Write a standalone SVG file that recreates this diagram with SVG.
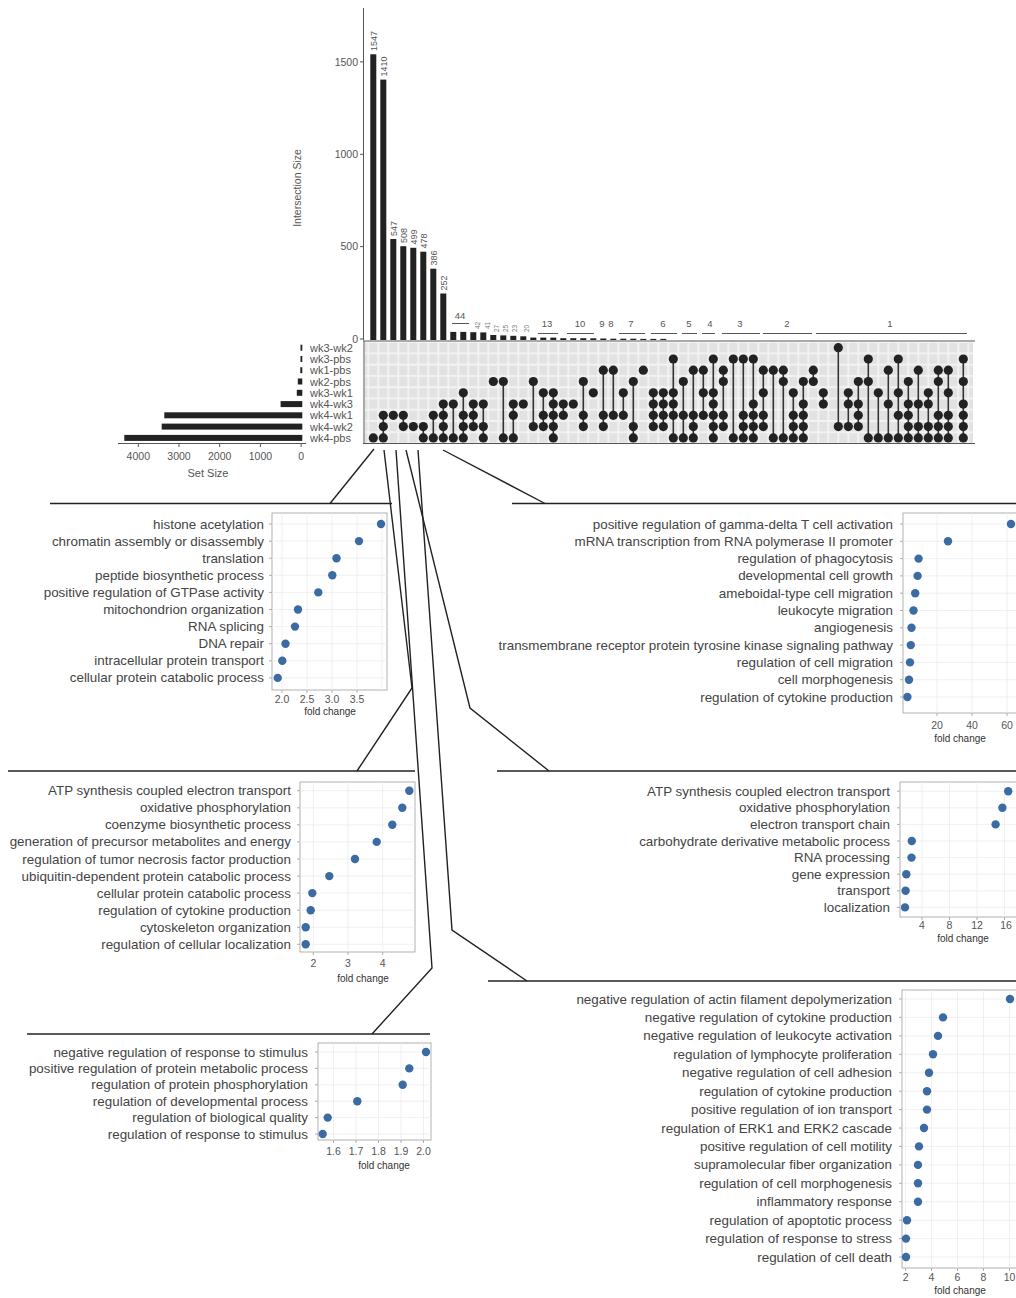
<svg xmlns="http://www.w3.org/2000/svg" xmlns:xlink="http://www.w3.org/1999/xlink" width="1016" height="1298" viewBox="0 0 1016 1298">
<style>
text{font-family:"Liberation Sans",Arial,sans-serif}
.lab{font-size:13.4px;fill:#444;text-anchor:end}
.tk{font-size:10.5px;fill:#555;text-anchor:middle}
.fc{font-size:10px;fill:#333;text-anchor:middle}
.ax{font-size:10.5px;fill:#555}
.rl{font-size:11px;fill:#555}
.bv{font-size:9px;fill:#555}
.gl{font-size:9.5px;fill:#555;text-anchor:middle}
.sv{font-size:6.5px;fill:#777}
.bar{fill:#222}
.ml{stroke:#333;stroke-width:1.6}
.grid{stroke:#ececec;stroke-width:0.8}
.box{fill:#fff;stroke:#a8a8a8;stroke-width:0.9}
.tick{stroke:#999;stroke-width:0.8}
.dot{fill:#3b6ba3}
.hl{stroke:#222;stroke-width:1.5}
.con{fill:none;stroke:#222;stroke-width:1.4}
.axl{stroke:#555;stroke-width:1}
.gline{stroke:#555;stroke-width:1}
</style>
<defs>
<circle id="dt" r="4.6" fill="#222"/>
<pattern id="cell" x="368.3" y="342.1" width="10" height="11.27" patternUnits="userSpaceOnUse">
<rect x="0.9" y="0.9" width="8.2" height="9.5" fill="#e2e2e2"/>
</pattern>
</defs>
<rect width="1016" height="1298" fill="#fff"/>

<!-- Intersection size bars -->
<g id="intersection-bars">
<line class="axl" x1="363.5" y1="8" x2="363.5" y2="340"/>
<line class="axl" x1="360" y1="61.9" x2="363.5" y2="61.9"/>
<line class="axl" x1="360" y1="154.3" x2="363.5" y2="154.3"/>
<line class="axl" x1="360" y1="246.6" x2="363.5" y2="246.6"/>
<line class="axl" x1="360" y1="339" x2="363.5" y2="339"/>
<text class="ax" x="358" y="65.5" text-anchor="end">1500</text>
<text class="ax" x="358" y="158" text-anchor="end">1000</text>
<text class="ax" x="358" y="250.3" text-anchor="end">500</text>
<text class="ax" x="358" y="342.5" text-anchor="end">0</text>
<text class="ax" transform="translate(301,188) rotate(-90)" text-anchor="middle">Intersection Size</text>
<rect class="bar" x="370.3" y="54.3" width="6" height="285.7"/>
<rect class="bar" x="380.3" y="79.6" width="6" height="260.4"/>
<rect class="bar" x="390.3" y="239" width="6" height="101"/>
<rect class="bar" x="400.3" y="246.2" width="6" height="93.8"/>
<rect class="bar" x="410.3" y="247.8" width="6" height="92.2"/>
<rect class="bar" x="420.3" y="251.7" width="6" height="88.3"/>
<rect class="bar" x="430.3" y="268.7" width="6" height="71.3"/>
<rect class="bar" x="440.3" y="293.5" width="6" height="46.5"/>
<rect class="bar" x="450.3" y="331.9" width="6" height="8.1"/>
<rect class="bar" x="460.3" y="331.9" width="6" height="8.1"/>
<rect class="bar" x="470.3" y="332.2" width="6" height="7.8"/>
<rect class="bar" x="480.3" y="332.4" width="6" height="7.6"/>
<rect class="bar" x="490.3" y="335" width="6" height="5"/>
<rect class="bar" x="500.3" y="335.4" width="6" height="4.6"/>
<rect class="bar" x="510.3" y="335.8" width="6" height="4.2"/>
<rect class="bar" x="520.3" y="336.3" width="6" height="3.7"/>
<rect class="bar" x="530.3" y="337.6" width="6" height="2.4"/>
<rect class="bar" x="540.3" y="337.6" width="6" height="2.4"/>
<rect class="bar" x="550.3" y="337.6" width="6" height="2.4"/>
<rect class="bar" x="560.3" y="338.2" width="6" height="1.8"/>
<rect class="bar" x="570.3" y="338.2" width="6" height="1.8"/>
<rect class="bar" x="580.3" y="338.2" width="6" height="1.8"/>
<rect class="bar" x="590.3" y="338.3" width="6" height="1.7"/>
<rect class="bar" x="600.3" y="338.5" width="6" height="1.5"/>
<rect class="bar" x="610.3" y="338.7" width="6" height="1.3"/>
<rect class="bar" x="620.3" y="338.7" width="6" height="1.3"/>
<rect class="bar" x="630.3" y="338.7" width="6" height="1.3"/>
<rect class="bar" x="640.3" y="338.9" width="6" height="1.1"/>
<rect class="bar" x="650.3" y="338.9" width="6" height="1.1"/>
<rect class="bar" x="660.3" y="338.9" width="6" height="1.1"/>
<text class="bv" transform="translate(376.5,51) rotate(-90)">1547</text>
<text class="bv" transform="translate(386.5,76.5) rotate(-90)">1410</text>
<text class="bv" transform="translate(396.5,236) rotate(-90)">547</text>
<text class="bv" transform="translate(406.5,243) rotate(-90)">508</text>
<text class="bv" transform="translate(416.5,244.5) rotate(-90)">499</text>
<text class="bv" transform="translate(426.5,248.5) rotate(-90)">478</text>
<text class="bv" transform="translate(436.5,265.5) rotate(-90)">386</text>
<text class="bv" transform="translate(446.5,290.5) rotate(-90)">252</text>
<text class="gl" x="460" y="319">44</text>
<line class="gline" x1="452" y1="323.5" x2="469" y2="323.5"/>
<text class="sv" transform="translate(479.5,329) rotate(-90)">42</text>
<text class="sv" transform="translate(489.5,329) rotate(-90)">41</text>
<text class="sv" transform="translate(499,332) rotate(-90)">27</text>
<text class="sv" transform="translate(508,332) rotate(-90)">25</text>
<text class="sv" transform="translate(517,332) rotate(-90)">23</text>
<text class="sv" transform="translate(529,332) rotate(-90)">20</text>
<text class="gl" x="547" y="327">13</text>
<line class="gline" x1="538" y1="333.5" x2="558" y2="333.5"/>
<text class="gl" x="580" y="327">10</text>
<line class="gline" x1="567" y1="333.5" x2="594" y2="333.5"/>
<text class="gl" x="602" y="327">9</text>
<text class="gl" x="611" y="327">8</text>
<text class="gl" x="631" y="327">7</text>
<line class="gline" x1="619" y1="333.5" x2="645" y2="333.5"/>
<text class="gl" x="663" y="327">6</text>
<line class="gline" x1="651" y1="333.5" x2="677" y2="333.5"/>
<text class="gl" x="689" y="327">5</text>
<line class="gline" x1="682" y1="333.5" x2="697" y2="333.5"/>
<text class="gl" x="710" y="327">4</text>
<line class="gline" x1="702" y1="333.5" x2="715" y2="333.5"/>
<text class="gl" x="740" y="327">3</text>
<line class="gline" x1="722" y1="333.5" x2="760" y2="333.5"/>
<text class="gl" x="787" y="327">2</text>
<line class="gline" x1="763" y1="333.5" x2="812" y2="333.5"/>
<text class="gl" x="890" y="327">1</text>
<line class="gline" x1="816" y1="333.5" x2="967" y2="333.5"/>
</g>

<!-- Set size bars -->
<g id="set-size">
<rect class="bar" x="300.5" y="344.7" width="1.8" height="6"/>
<rect class="bar" x="300.5" y="356" width="1.8" height="6"/>
<rect class="bar" x="300.3" y="367.2" width="2" height="6"/>
<rect class="bar" x="297.8" y="378.5" width="4.5" height="6"/>
<rect class="bar" x="296.8" y="389.8" width="5.5" height="6"/>
<rect class="bar" x="280.6" y="401.1" width="21.7" height="6"/>
<rect class="bar" x="164.3" y="412.3" width="138" height="6"/>
<rect class="bar" x="161.7" y="423.6" width="140.6" height="6"/>
<rect class="bar" x="124.3" y="434.9" width="178" height="6"/>
<line class="axl" x1="118" y1="443.5" x2="306" y2="443.5"/>
<line class="axl" x1="138.3" y1="443.5" x2="138.3" y2="447"/>
<line class="axl" x1="179" y1="443.5" x2="179" y2="447"/>
<line class="axl" x1="219.7" y1="443.5" x2="219.7" y2="447"/>
<line class="axl" x1="260.4" y1="443.5" x2="260.4" y2="447"/>
<line class="axl" x1="301.1" y1="443.5" x2="301.1" y2="447"/>
<text class="ax" x="138.3" y="460" text-anchor="middle">4000</text>
<text class="ax" x="179" y="460" text-anchor="middle">3000</text>
<text class="ax" x="219.7" y="460" text-anchor="middle">2000</text>
<text class="ax" x="260.4" y="460" text-anchor="middle">1000</text>
<text class="ax" x="301.1" y="460" text-anchor="middle">0</text>
<text class="ax" x="208" y="477" text-anchor="middle" style="font-size:11px">Set Size</text>
<text class="rl" x="310" y="351.7">wk3-wk2</text>
<text class="rl" x="310" y="363">wk3-pbs</text>
<text class="rl" x="310" y="374.2">wk1-pbs</text>
<text class="rl" x="310" y="385.5">wk2-pbs</text>
<text class="rl" x="310" y="396.8">wk3-wk1</text>
<text class="rl" x="310" y="408.1">wk4-wk3</text>
<text class="rl" x="310" y="419.3">wk4-wk1</text>
<text class="rl" x="310" y="430.6">wk4-wk2</text>
<text class="rl" x="310" y="441.9">wk4-pbs</text>
</g>

<!-- Matrix -->
<g id="matrix">
<rect x="365" y="342" width="608" height="101" fill="#f3f3f3"/>
<rect x="365" y="342" width="608" height="101" fill="url(#cell)"/>
<line class="axl" x1="363" y1="341" x2="975" y2="341"/>
<line class="axl" x1="363" y1="443.5" x2="975" y2="443.5"/>
<line class="axl" x1="364" y1="341" x2="364" y2="443.5"/>
<g transform="translate(373.3)"><use href="#dt" y="437.9"/></g>
<g transform="translate(383.3)"><line class="ml" y1="415.3" y2="437.9"/><use href="#dt" y="415.3"/><use href="#dt" y="426.6"/><use href="#dt" y="437.9"/></g>
<g transform="translate(393.3)"><use href="#dt" y="415.3"/></g>
<g transform="translate(403.3)"><line class="ml" y1="415.3" y2="426.6"/><use href="#dt" y="415.3"/><use href="#dt" y="426.6"/></g>
<g transform="translate(413.3)"><use href="#dt" y="426.6"/></g>
<g transform="translate(423.3)"><line class="ml" y1="426.6" y2="437.9"/><use href="#dt" y="426.6"/><use href="#dt" y="437.9"/></g>
<g transform="translate(433.3)"><line class="ml" y1="415.3" y2="437.9"/><use href="#dt" y="415.3"/><use href="#dt" y="437.9"/></g>
<g transform="translate(443.3)"><line class="ml" y1="404.1" y2="437.9"/><use href="#dt" y="404.1"/><use href="#dt" y="415.3"/><use href="#dt" y="426.6"/><use href="#dt" y="437.9"/></g>
<g transform="translate(453.3)"><line class="ml" y1="404.1" y2="437.9"/><use href="#dt" y="404.1"/><use href="#dt" y="437.9"/></g>
<g transform="translate(463.3)"><line class="ml" y1="392.8" y2="437.9"/><use href="#dt" y="392.8"/><use href="#dt" y="415.3"/><use href="#dt" y="426.6"/><use href="#dt" y="437.9"/></g>
<g transform="translate(473.3)"><line class="ml" y1="404.1" y2="426.6"/><use href="#dt" y="404.1"/><use href="#dt" y="415.3"/><use href="#dt" y="426.6"/></g>
<g transform="translate(483.3)"><line class="ml" y1="404.1" y2="437.9"/><use href="#dt" y="404.1"/><use href="#dt" y="426.6"/><use href="#dt" y="437.9"/></g>
<g transform="translate(493.3)"><use href="#dt" y="381.5"/></g>
<g transform="translate(503.3)"><line class="ml" y1="381.5" y2="437.9"/><use href="#dt" y="381.5"/><use href="#dt" y="437.9"/></g>
<g transform="translate(513.3)"><line class="ml" y1="404.1" y2="437.9"/><use href="#dt" y="404.1"/><use href="#dt" y="415.3"/><use href="#dt" y="437.9"/></g>
<g transform="translate(523.3)"><use href="#dt" y="404.1"/></g>
<g transform="translate(533.3)"><line class="ml" y1="381.5" y2="426.6"/><use href="#dt" y="381.5"/><use href="#dt" y="426.6"/></g>
<g transform="translate(543.3)"><line class="ml" y1="392.8" y2="426.6"/><use href="#dt" y="392.8"/><use href="#dt" y="415.3"/><use href="#dt" y="426.6"/></g>
<g transform="translate(553.3)"><line class="ml" y1="392.8" y2="437.9"/><use href="#dt" y="392.8"/><use href="#dt" y="404.1"/><use href="#dt" y="415.3"/><use href="#dt" y="426.6"/><use href="#dt" y="437.9"/></g>
<g transform="translate(563.3)"><line class="ml" y1="404.1" y2="415.3"/><use href="#dt" y="404.1"/><use href="#dt" y="415.3"/></g>
<g transform="translate(573.3)"><use href="#dt" y="404.1"/></g>
<g transform="translate(583.3)"><line class="ml" y1="381.5" y2="426.6"/><use href="#dt" y="381.5"/><use href="#dt" y="415.3"/><use href="#dt" y="426.6"/></g>
<g transform="translate(593.3)"><use href="#dt" y="392.8"/></g>
<g transform="translate(603.3)"><line class="ml" y1="370.2" y2="426.6"/><use href="#dt" y="370.2"/><use href="#dt" y="415.3"/><use href="#dt" y="426.6"/></g>
<g transform="translate(613.3)"><line class="ml" y1="370.2" y2="415.3"/><use href="#dt" y="370.2"/><use href="#dt" y="415.3"/></g>
<g transform="translate(623.3)"><line class="ml" y1="392.8" y2="415.3"/><use href="#dt" y="392.8"/><use href="#dt" y="415.3"/></g>
<g transform="translate(633.3)"><line class="ml" y1="381.5" y2="437.9"/><use href="#dt" y="381.5"/><use href="#dt" y="426.6"/><use href="#dt" y="437.9"/></g>
<g transform="translate(643.3)"><use href="#dt" y="370.2"/></g>
<g transform="translate(653.3)"><line class="ml" y1="392.8" y2="426.6"/><use href="#dt" y="392.8"/><use href="#dt" y="404.1"/><use href="#dt" y="415.3"/><use href="#dt" y="426.6"/></g>
<g transform="translate(663.3)"><line class="ml" y1="392.8" y2="426.6"/><use href="#dt" y="392.8"/><use href="#dt" y="404.1"/><use href="#dt" y="415.3"/><use href="#dt" y="426.6"/></g>
<g transform="translate(673.3)"><line class="ml" y1="359" y2="437.9"/><use href="#dt" y="359"/><use href="#dt" y="392.8"/><use href="#dt" y="404.1"/><use href="#dt" y="415.3"/><use href="#dt" y="437.9"/></g>
<g transform="translate(683.3)"><line class="ml" y1="381.5" y2="437.9"/><use href="#dt" y="381.5"/><use href="#dt" y="415.3"/><use href="#dt" y="437.9"/></g>
<g transform="translate(693.3)"><line class="ml" y1="370.2" y2="437.9"/><use href="#dt" y="370.2"/><use href="#dt" y="415.3"/><use href="#dt" y="426.6"/><use href="#dt" y="437.9"/></g>
<g transform="translate(703.3)"><line class="ml" y1="370.2" y2="415.3"/><use href="#dt" y="370.2"/><use href="#dt" y="392.8"/><use href="#dt" y="415.3"/></g>
<g transform="translate(713.3)"><line class="ml" y1="359" y2="437.9"/><use href="#dt" y="359"/><use href="#dt" y="392.8"/><use href="#dt" y="404.1"/><use href="#dt" y="415.3"/><use href="#dt" y="426.6"/><use href="#dt" y="437.9"/></g>
<g transform="translate(723.3)"><line class="ml" y1="370.2" y2="426.6"/><use href="#dt" y="370.2"/><use href="#dt" y="381.5"/><use href="#dt" y="415.3"/><use href="#dt" y="426.6"/></g>
<g transform="translate(733.3)"><line class="ml" y1="359" y2="437.9"/><use href="#dt" y="359"/><use href="#dt" y="437.9"/></g>
<g transform="translate(743.3)"><line class="ml" y1="359" y2="437.9"/><use href="#dt" y="359"/><use href="#dt" y="415.3"/><use href="#dt" y="426.6"/><use href="#dt" y="437.9"/></g>
<g transform="translate(753.3)"><line class="ml" y1="359" y2="437.9"/><use href="#dt" y="359"/><use href="#dt" y="404.1"/><use href="#dt" y="415.3"/><use href="#dt" y="426.6"/><use href="#dt" y="437.9"/></g>
<g transform="translate(763.3)"><line class="ml" y1="370.2" y2="426.6"/><use href="#dt" y="370.2"/><use href="#dt" y="392.8"/><use href="#dt" y="415.3"/><use href="#dt" y="426.6"/></g>
<g transform="translate(773.3)"><line class="ml" y1="370.2" y2="437.9"/><use href="#dt" y="370.2"/><use href="#dt" y="437.9"/></g>
<g transform="translate(783.3)"><line class="ml" y1="370.2" y2="437.9"/><use href="#dt" y="370.2"/><use href="#dt" y="381.5"/><use href="#dt" y="437.9"/></g>
<g transform="translate(793.3)"><line class="ml" y1="392.8" y2="437.9"/><use href="#dt" y="392.8"/><use href="#dt" y="415.3"/><use href="#dt" y="426.6"/><use href="#dt" y="437.9"/></g>
<g transform="translate(803.3)"><line class="ml" y1="381.5" y2="437.9"/><use href="#dt" y="381.5"/><use href="#dt" y="404.1"/><use href="#dt" y="415.3"/><use href="#dt" y="426.6"/><use href="#dt" y="437.9"/></g>
<g transform="translate(813.3)"><line class="ml" y1="370.2" y2="381.5"/><use href="#dt" y="370.2"/><use href="#dt" y="381.5"/></g>
<g transform="translate(823.3)"><line class="ml" y1="392.8" y2="404.1"/><use href="#dt" y="392.8"/><use href="#dt" y="404.1"/></g>
<g transform="translate(838.3)"><line class="ml" y1="347.7" y2="426.6"/><use href="#dt" y="347.7"/><use href="#dt" y="426.6"/></g>
<g transform="translate(848.3)"><line class="ml" y1="392.8" y2="426.6"/><use href="#dt" y="392.8"/><use href="#dt" y="404.1"/><use href="#dt" y="426.6"/></g>
<g transform="translate(858.3)"><line class="ml" y1="381.5" y2="426.6"/><use href="#dt" y="381.5"/><use href="#dt" y="404.1"/><use href="#dt" y="415.3"/><use href="#dt" y="426.6"/></g>
<g transform="translate(868.3)"><line class="ml" y1="359" y2="437.9"/><use href="#dt" y="359"/><use href="#dt" y="381.5"/><use href="#dt" y="437.9"/></g>
<g transform="translate(878.3)"><line class="ml" y1="392.8" y2="437.9"/><use href="#dt" y="392.8"/><use href="#dt" y="437.9"/></g>
<g transform="translate(888.3)"><line class="ml" y1="370.2" y2="437.9"/><use href="#dt" y="370.2"/><use href="#dt" y="404.1"/><use href="#dt" y="437.9"/></g>
<g transform="translate(898.3)"><line class="ml" y1="359" y2="437.9"/><use href="#dt" y="359"/><use href="#dt" y="392.8"/><use href="#dt" y="415.3"/><use href="#dt" y="437.9"/></g>
<g transform="translate(908.3)"><line class="ml" y1="381.5" y2="437.9"/><use href="#dt" y="381.5"/><use href="#dt" y="404.1"/><use href="#dt" y="415.3"/><use href="#dt" y="426.6"/><use href="#dt" y="437.9"/></g>
<g transform="translate(918.3)"><line class="ml" y1="370.2" y2="437.9"/><use href="#dt" y="370.2"/><use href="#dt" y="404.1"/><use href="#dt" y="426.6"/><use href="#dt" y="437.9"/></g>
<g transform="translate(928.3)"><line class="ml" y1="392.8" y2="437.9"/><use href="#dt" y="392.8"/><use href="#dt" y="404.1"/><use href="#dt" y="426.6"/><use href="#dt" y="437.9"/></g>
<g transform="translate(938.3)"><line class="ml" y1="370.2" y2="437.9"/><use href="#dt" y="370.2"/><use href="#dt" y="381.5"/><use href="#dt" y="415.3"/><use href="#dt" y="426.6"/><use href="#dt" y="437.9"/></g>
<g transform="translate(948.3)"><line class="ml" y1="370.2" y2="437.9"/><use href="#dt" y="370.2"/><use href="#dt" y="392.8"/><use href="#dt" y="415.3"/><use href="#dt" y="426.6"/><use href="#dt" y="437.9"/></g>
<g transform="translate(963.3)"><line class="ml" y1="359" y2="437.9"/><use href="#dt" y="359"/><use href="#dt" y="381.5"/><use href="#dt" y="404.1"/><use href="#dt" y="415.3"/><use href="#dt" y="426.6"/><use href="#dt" y="437.9"/></g>
</g>

<!-- Panel A -->
<g id="panel-a">
<line class="hl" x1="50" y1="503.5" x2="392" y2="503.5"/>
<rect class="box" x="272" y="513" width="115" height="177"/>
<g class="grid"><line x1="282" y1="513" x2="282" y2="690"/><line x1="307" y1="513" x2="307" y2="690"/><line x1="332" y1="513" x2="332" y2="690"/><line x1="357" y1="513" x2="357" y2="690"/><line x1="382" y1="513" x2="382" y2="690"/>
<line x1="272" y1="524" x2="387" y2="524"/><line x1="272" y1="541.1" x2="387" y2="541.1"/><line x1="272" y1="558.2" x2="387" y2="558.2"/><line x1="272" y1="575.3" x2="387" y2="575.3"/><line x1="272" y1="592.4" x2="387" y2="592.4"/><line x1="272" y1="609.5" x2="387" y2="609.5"/><line x1="272" y1="626.6" x2="387" y2="626.6"/><line x1="272" y1="643.7" x2="387" y2="643.7"/><line x1="272" y1="660.8" x2="387" y2="660.8"/><line x1="272" y1="677.9" x2="387" y2="677.9"/></g>
<g class="tick"><line x1="282" y1="690" x2="282" y2="693"/><line x1="307" y1="690" x2="307" y2="693"/><line x1="332" y1="690" x2="332" y2="693"/><line x1="357" y1="690" x2="357" y2="693"/>
<line x1="269" y1="524" x2="272" y2="524"/><line x1="269" y1="541.1" x2="272" y2="541.1"/><line x1="269" y1="558.2" x2="272" y2="558.2"/><line x1="269" y1="575.3" x2="272" y2="575.3"/><line x1="269" y1="592.4" x2="272" y2="592.4"/><line x1="269" y1="609.5" x2="272" y2="609.5"/><line x1="269" y1="626.6" x2="272" y2="626.6"/><line x1="269" y1="643.7" x2="272" y2="643.7"/><line x1="269" y1="660.8" x2="272" y2="660.8"/><line x1="269" y1="677.9" x2="272" y2="677.9"/></g>
<text class="tk" x="282" y="703">2.0</text><text class="tk" x="307" y="703">2.5</text><text class="tk" x="332" y="703">3.0</text><text class="tk" x="357" y="703">3.5</text>
<text class="fc" x="330" y="715">fold change</text>
<text class="lab" x="264" y="528.5">histone acetylation</text>
<text class="lab" x="264" y="545.6">chromatin assembly or disassembly</text>
<text class="lab" x="264" y="562.7">translation</text>
<text class="lab" x="264" y="579.8">peptide biosynthetic process</text>
<text class="lab" x="264" y="596.9">positive regulation of GTPase activity</text>
<text class="lab" x="264" y="614">mitochondrion organization</text>
<text class="lab" x="264" y="631.1">RNA splicing</text>
<text class="lab" x="264" y="648.2">DNA repair</text>
<text class="lab" x="264" y="665.3">intracellular protein transport</text>
<text class="lab" x="264" y="682.4">cellular protein catabolic process</text>
<g class="dot"><circle cx="381" cy="524" r="4.2"/><circle cx="359" cy="541.1" r="4.2"/><circle cx="336.5" cy="558.2" r="4.2"/><circle cx="332.3" cy="575.3" r="4.2"/><circle cx="318.3" cy="592.4" r="4.2"/><circle cx="298" cy="609.5" r="4.2"/><circle cx="295" cy="626.6" r="4.2"/><circle cx="285.5" cy="643.7" r="4.2"/><circle cx="282.3" cy="660.8" r="4.2"/><circle cx="277.7" cy="677.9" r="4.2"/></g>
</g>

<!-- Panel B -->
<g id="panel-b">
<line class="hl" x1="512" y1="503.5" x2="1016" y2="503.5"/>
<rect class="box" x="903" y="513" width="130" height="200"/>
<g class="grid"><line x1="937" y1="513" x2="937" y2="713"/><line x1="972" y1="513" x2="972" y2="713"/><line x1="1007" y1="513" x2="1007" y2="713"/>
<line x1="903" y1="524" x2="1016" y2="524"/><line x1="903" y1="541.3" x2="1016" y2="541.3"/><line x1="903" y1="558.6" x2="1016" y2="558.6"/><line x1="903" y1="575.9" x2="1016" y2="575.9"/><line x1="903" y1="593.2" x2="1016" y2="593.2"/><line x1="903" y1="610.5" x2="1016" y2="610.5"/><line x1="903" y1="627.8" x2="1016" y2="627.8"/><line x1="903" y1="645.1" x2="1016" y2="645.1"/><line x1="903" y1="662.4" x2="1016" y2="662.4"/><line x1="903" y1="679.7" x2="1016" y2="679.7"/><line x1="903" y1="697" x2="1016" y2="697"/></g>
<g class="tick"><line x1="937" y1="713" x2="937" y2="716"/><line x1="972" y1="713" x2="972" y2="716"/><line x1="1007" y1="713" x2="1007" y2="716"/>
<line x1="900" y1="524" x2="903" y2="524"/><line x1="900" y1="541.3" x2="903" y2="541.3"/><line x1="900" y1="558.6" x2="903" y2="558.6"/><line x1="900" y1="575.9" x2="903" y2="575.9"/><line x1="900" y1="593.2" x2="903" y2="593.2"/><line x1="900" y1="610.5" x2="903" y2="610.5"/><line x1="900" y1="627.8" x2="903" y2="627.8"/><line x1="900" y1="645.1" x2="903" y2="645.1"/><line x1="900" y1="662.4" x2="903" y2="662.4"/><line x1="900" y1="679.7" x2="903" y2="679.7"/><line x1="900" y1="697" x2="903" y2="697"/></g>
<text class="tk" x="937" y="729">20</text><text class="tk" x="972" y="729">40</text><text class="tk" x="1007" y="729">60</text>
<text class="fc" x="960" y="742">fold change</text>
<text class="lab" x="893" y="528.5">positive regulation of gamma-delta T cell activation</text>
<text class="lab" x="893" y="545.8">mRNA transcription from RNA polymerase II promoter</text>
<text class="lab" x="893" y="563.1">regulation of phagocytosis</text>
<text class="lab" x="893" y="580.4">developmental cell growth</text>
<text class="lab" x="893" y="597.7">ameboidal-type cell migration</text>
<text class="lab" x="893" y="615">leukocyte migration</text>
<text class="lab" x="893" y="632.3">angiogenesis</text>
<text class="lab" x="893" y="649.6">transmembrane receptor protein tyrosine kinase signaling pathway</text>
<text class="lab" x="893" y="666.9">regulation of cell migration</text>
<text class="lab" x="893" y="684.2">cell morphogenesis</text>
<text class="lab" x="893" y="701.5">regulation of cytokine production</text>
<g class="dot"><circle cx="1011" cy="524" r="4.2"/><circle cx="948" cy="541.3" r="4.2"/><circle cx="918.6" cy="558.6" r="4.2"/><circle cx="917.6" cy="575.9" r="4.2"/><circle cx="915.2" cy="593.2" r="4.2"/><circle cx="913.5" cy="610.5" r="4.2"/><circle cx="911.5" cy="627.8" r="4.2"/><circle cx="910.8" cy="645.1" r="4.2"/><circle cx="910" cy="662.4" r="4.2"/><circle cx="909" cy="679.7" r="4.2"/><circle cx="907.4" cy="697" r="4.2"/></g>
</g>

<!-- Panel C -->
<g id="panel-c">
<line class="hl" x1="8" y1="771" x2="415" y2="771"/>
<rect class="box" x="300" y="782" width="115" height="170"/>
<g class="grid"><line x1="313.3" y1="782" x2="313.3" y2="952"/><line x1="348" y1="782" x2="348" y2="952"/><line x1="382.7" y1="782" x2="382.7" y2="952"/>
<line x1="300" y1="790.7" x2="415" y2="790.7"/><line x1="300" y1="807.8" x2="415" y2="807.8"/><line x1="300" y1="824.8" x2="415" y2="824.8"/><line x1="300" y1="841.9" x2="415" y2="841.9"/><line x1="300" y1="859" x2="415" y2="859"/><line x1="300" y1="876.1" x2="415" y2="876.1"/><line x1="300" y1="893.1" x2="415" y2="893.1"/><line x1="300" y1="910.2" x2="415" y2="910.2"/><line x1="300" y1="927.3" x2="415" y2="927.3"/><line x1="300" y1="944.3" x2="415" y2="944.3"/></g>
<g class="tick"><line x1="313.3" y1="952" x2="313.3" y2="955"/><line x1="348" y1="952" x2="348" y2="955"/><line x1="382.7" y1="952" x2="382.7" y2="955"/>
<line x1="297" y1="790.7" x2="300" y2="790.7"/><line x1="297" y1="807.8" x2="300" y2="807.8"/><line x1="297" y1="824.8" x2="300" y2="824.8"/><line x1="297" y1="841.9" x2="300" y2="841.9"/><line x1="297" y1="859" x2="300" y2="859"/><line x1="297" y1="876.1" x2="300" y2="876.1"/><line x1="297" y1="893.1" x2="300" y2="893.1"/><line x1="297" y1="910.2" x2="300" y2="910.2"/><line x1="297" y1="927.3" x2="300" y2="927.3"/><line x1="297" y1="944.3" x2="300" y2="944.3"/></g>
<text class="tk" x="313.3" y="967">2</text><text class="tk" x="348" y="967">3</text><text class="tk" x="382.7" y="967">4</text>
<text class="fc" x="363" y="982">fold change</text>
<text class="lab" x="291" y="795.2">ATP synthesis coupled electron transport</text>
<text class="lab" x="291" y="812.3">oxidative phosphorylation</text>
<text class="lab" x="291" y="829.3">coenzyme biosynthetic process</text>
<text class="lab" x="291" y="846.4">generation of precursor metabolites and energy</text>
<text class="lab" x="291" y="863.5">regulation of tumor necrosis factor production</text>
<text class="lab" x="291" y="880.6">ubiquitin-dependent protein catabolic process</text>
<text class="lab" x="291" y="897.6">cellular protein catabolic process</text>
<text class="lab" x="291" y="914.7">regulation of cytokine production</text>
<text class="lab" x="291" y="931.8">cytoskeleton organization</text>
<text class="lab" x="291" y="948.8">regulation of cellular localization</text>
<g class="dot"><circle cx="409.3" cy="790.7" r="4.2"/><circle cx="402.3" cy="807.8" r="4.2"/><circle cx="392.3" cy="824.8" r="4.2"/><circle cx="376.7" cy="841.9" r="4.2"/><circle cx="355" cy="859" r="4.2"/><circle cx="329.3" cy="876.1" r="4.2"/><circle cx="312.3" cy="893.1" r="4.2"/><circle cx="310.7" cy="910.2" r="4.2"/><circle cx="305.7" cy="927.3" r="4.2"/><circle cx="305.7" cy="944.3" r="4.2"/></g>
</g>

<!-- Panel D -->
<g id="panel-d">
<line class="hl" x1="497" y1="771" x2="1016" y2="771"/>
<rect class="box" x="900" y="782" width="130" height="135"/>
<g class="grid"><line x1="922" y1="782" x2="922" y2="917"/><line x1="949.5" y1="782" x2="949.5" y2="917"/><line x1="977" y1="782" x2="977" y2="917"/><line x1="1004.5" y1="782" x2="1004.5" y2="917"/>
<line x1="900" y1="791.2" x2="1016" y2="791.2"/><line x1="900" y1="807.8" x2="1016" y2="807.8"/><line x1="900" y1="824.4" x2="1016" y2="824.4"/><line x1="900" y1="841" x2="1016" y2="841"/><line x1="900" y1="857.6" x2="1016" y2="857.6"/><line x1="900" y1="874.2" x2="1016" y2="874.2"/><line x1="900" y1="890.8" x2="1016" y2="890.8"/><line x1="900" y1="907.4" x2="1016" y2="907.4"/></g>
<g class="tick"><line x1="922" y1="917" x2="922" y2="920"/><line x1="949.5" y1="917" x2="949.5" y2="920"/><line x1="977" y1="917" x2="977" y2="920"/><line x1="1004.5" y1="917" x2="1004.5" y2="920"/>
<line x1="897" y1="791.2" x2="900" y2="791.2"/><line x1="897" y1="807.8" x2="900" y2="807.8"/><line x1="897" y1="824.4" x2="900" y2="824.4"/><line x1="897" y1="841" x2="900" y2="841"/><line x1="897" y1="857.6" x2="900" y2="857.6"/><line x1="897" y1="874.2" x2="900" y2="874.2"/><line x1="897" y1="890.8" x2="900" y2="890.8"/><line x1="897" y1="907.4" x2="900" y2="907.4"/></g>
<text class="tk" x="922" y="929">4</text><text class="tk" x="949.5" y="929">8</text><text class="tk" x="977" y="929">12</text><text class="tk" x="1006" y="929">16</text>
<text class="fc" x="963" y="942">fold change</text>
<text class="lab" x="890" y="795.7">ATP synthesis coupled electron transport</text>
<text class="lab" x="890" y="812.3">oxidative phosphorylation</text>
<text class="lab" x="890" y="828.9">electron transport chain</text>
<text class="lab" x="890" y="845.5">carbohydrate derivative metabolic process</text>
<text class="lab" x="890" y="862.1">RNA processing</text>
<text class="lab" x="890" y="878.7">gene expression</text>
<text class="lab" x="890" y="895.3">transport</text>
<text class="lab" x="890" y="911.9">localization</text>
<g class="dot"><circle cx="1008.2" cy="791.2" r="4.2"/><circle cx="1002.4" cy="807.8" r="4.2"/><circle cx="995.6" cy="824.4" r="4.2"/><circle cx="911.8" cy="841" r="4.2"/><circle cx="911.5" cy="857.6" r="4.2"/><circle cx="906.3" cy="874.2" r="4.2"/><circle cx="905.6" cy="890.8" r="4.2"/><circle cx="905" cy="907.4" r="4.2"/></g>
</g>

<!-- Panel E -->
<g id="panel-e">
<line class="hl" x1="27" y1="1034" x2="430" y2="1034"/>
<rect class="box" x="318" y="1043" width="113" height="97"/>
<g class="grid"><line x1="333.5" y1="1043" x2="333.5" y2="1140"/><line x1="356" y1="1043" x2="356" y2="1140"/><line x1="378.5" y1="1043" x2="378.5" y2="1140"/><line x1="401" y1="1043" x2="401" y2="1140"/><line x1="423.5" y1="1043" x2="423.5" y2="1140"/>
<line x1="318" y1="1052" x2="431" y2="1052"/><line x1="318" y1="1068.4" x2="431" y2="1068.4"/><line x1="318" y1="1084.8" x2="431" y2="1084.8"/><line x1="318" y1="1101.2" x2="431" y2="1101.2"/><line x1="318" y1="1117.6" x2="431" y2="1117.6"/><line x1="318" y1="1134" x2="431" y2="1134"/></g>
<g class="tick"><line x1="333.5" y1="1140" x2="333.5" y2="1143"/><line x1="356" y1="1140" x2="356" y2="1143"/><line x1="378.5" y1="1140" x2="378.5" y2="1143"/><line x1="401" y1="1140" x2="401" y2="1143"/><line x1="423.5" y1="1140" x2="423.5" y2="1143"/>
<line x1="315" y1="1052" x2="318" y2="1052"/><line x1="315" y1="1068.4" x2="318" y2="1068.4"/><line x1="315" y1="1084.8" x2="318" y2="1084.8"/><line x1="315" y1="1101.2" x2="318" y2="1101.2"/><line x1="315" y1="1117.6" x2="318" y2="1117.6"/><line x1="315" y1="1134" x2="318" y2="1134"/></g>
<text class="tk" x="333.5" y="1155">1.6</text><text class="tk" x="356" y="1155">1.7</text><text class="tk" x="378.5" y="1155">1.8</text><text class="tk" x="401" y="1155">1.9</text><text class="tk" x="423.5" y="1155">2.0</text>
<text class="fc" x="384" y="1169">fold change</text>
<text class="lab" x="308" y="1056.5">negative regulation of response to stimulus</text>
<text class="lab" x="308" y="1072.9">positive regulation of protein metabolic process</text>
<text class="lab" x="308" y="1089.3">regulation of protein phosphorylation</text>
<text class="lab" x="308" y="1105.7">regulation of developmental process</text>
<text class="lab" x="308" y="1122.1">regulation of biological quality</text>
<text class="lab" x="308" y="1138.5">regulation of response to stimulus</text>
<g class="dot"><circle cx="426" cy="1052" r="4.2"/><circle cx="409.3" cy="1068.4" r="4.2"/><circle cx="402.7" cy="1084.8" r="4.2"/><circle cx="357.3" cy="1101.2" r="4.2"/><circle cx="327.7" cy="1117.6" r="4.2"/><circle cx="322.7" cy="1134" r="4.2"/></g>
</g>

<!-- Panel F -->
<g id="panel-f">
<line class="hl" x1="488" y1="981" x2="1016" y2="981"/>
<rect class="box" x="902" y="990" width="130" height="278"/>
<g class="grid"><line x1="905.6" y1="990" x2="905.6" y2="1268"/><line x1="931.5" y1="990" x2="931.5" y2="1268"/><line x1="957.5" y1="990" x2="957.5" y2="1268"/><line x1="983.5" y1="990" x2="983.5" y2="1268"/><line x1="1009.5" y1="990" x2="1009.5" y2="1268"/>
<line x1="902" y1="999" x2="1016" y2="999"/><line x1="902" y1="1017.4" x2="1016" y2="1017.4"/><line x1="902" y1="1035.9" x2="1016" y2="1035.9"/><line x1="902" y1="1054.3" x2="1016" y2="1054.3"/><line x1="902" y1="1072.7" x2="1016" y2="1072.7"/><line x1="902" y1="1091.2" x2="1016" y2="1091.2"/><line x1="902" y1="1109.6" x2="1016" y2="1109.6"/><line x1="902" y1="1128" x2="1016" y2="1128"/><line x1="902" y1="1146.4" x2="1016" y2="1146.4"/><line x1="902" y1="1164.9" x2="1016" y2="1164.9"/><line x1="902" y1="1183.3" x2="1016" y2="1183.3"/><line x1="902" y1="1201.7" x2="1016" y2="1201.7"/><line x1="902" y1="1220.2" x2="1016" y2="1220.2"/><line x1="902" y1="1238.6" x2="1016" y2="1238.6"/><line x1="902" y1="1257" x2="1016" y2="1257"/></g>
<g class="tick"><line x1="905.6" y1="1268" x2="905.6" y2="1271"/><line x1="931.5" y1="1268" x2="931.5" y2="1271"/><line x1="957.5" y1="1268" x2="957.5" y2="1271"/><line x1="983.5" y1="1268" x2="983.5" y2="1271"/><line x1="1009.5" y1="1268" x2="1009.5" y2="1271"/>
<line x1="899" y1="999" x2="902" y2="999"/><line x1="899" y1="1017.4" x2="902" y2="1017.4"/><line x1="899" y1="1035.9" x2="902" y2="1035.9"/><line x1="899" y1="1054.3" x2="902" y2="1054.3"/><line x1="899" y1="1072.7" x2="902" y2="1072.7"/><line x1="899" y1="1091.2" x2="902" y2="1091.2"/><line x1="899" y1="1109.6" x2="902" y2="1109.6"/><line x1="899" y1="1128" x2="902" y2="1128"/><line x1="899" y1="1146.4" x2="902" y2="1146.4"/><line x1="899" y1="1164.9" x2="902" y2="1164.9"/><line x1="899" y1="1183.3" x2="902" y2="1183.3"/><line x1="899" y1="1201.7" x2="902" y2="1201.7"/><line x1="899" y1="1220.2" x2="902" y2="1220.2"/><line x1="899" y1="1238.6" x2="902" y2="1238.6"/><line x1="899" y1="1257" x2="902" y2="1257"/></g>
<text class="tk" x="905.6" y="1281">2</text><text class="tk" x="931.5" y="1281">4</text><text class="tk" x="957.5" y="1281">6</text><text class="tk" x="983.5" y="1281">8</text><text class="tk" x="1009.5" y="1281">10</text>
<text class="fc" x="960" y="1294">fold change</text>
<text class="lab" x="892" y="1003.5">negative regulation of actin filament depolymerization</text>
<text class="lab" x="892" y="1021.9">negative regulation of cytokine production</text>
<text class="lab" x="892" y="1040.4">negative regulation of leukocyte activation</text>
<text class="lab" x="892" y="1058.8">regulation of lymphocyte proliferation</text>
<text class="lab" x="892" y="1077.2">negative regulation of cell adhesion</text>
<text class="lab" x="892" y="1095.7">regulation of cytokine production</text>
<text class="lab" x="892" y="1114.1">positive regulation of ion transport</text>
<text class="lab" x="892" y="1132.5">regulation of ERK1 and ERK2 cascade</text>
<text class="lab" x="892" y="1150.9">positive regulation of cell motility</text>
<text class="lab" x="892" y="1169.4">supramolecular fiber organization</text>
<text class="lab" x="892" y="1187.8">regulation of cell morphogenesis</text>
<text class="lab" x="892" y="1206.2">inflammatory response</text>
<text class="lab" x="892" y="1224.7">regulation of apoptotic process</text>
<text class="lab" x="892" y="1243.1">regulation of response to stress</text>
<text class="lab" x="892" y="1261.5">regulation of cell death</text>
<g class="dot"><circle cx="1010" cy="999" r="4.2"/><circle cx="943" cy="1017.4" r="4.2"/><circle cx="938" cy="1035.9" r="4.2"/><circle cx="933" cy="1054.3" r="4.2"/><circle cx="929" cy="1072.7" r="4.2"/><circle cx="927" cy="1091.2" r="4.2"/><circle cx="927" cy="1109.6" r="4.2"/><circle cx="924" cy="1128" r="4.2"/><circle cx="919" cy="1146.4" r="4.2"/><circle cx="918" cy="1164.9" r="4.2"/><circle cx="918" cy="1183.3" r="4.2"/><circle cx="918" cy="1201.7" r="4.2"/><circle cx="907" cy="1220.2" r="4.2"/><circle cx="906" cy="1238.6" r="4.2"/><circle cx="906" cy="1257" r="4.2"/></g>
</g>

<!-- Connectors -->
<g id="connectors" class="con">
<path d="M374,449 L330,503.5"/>
<path d="M384,450 L412,688 L357,771"/>
<path d="M396,450 L432,968 L372,1034"/>
<path d="M406,450 L470,708 L549,771"/>
<path d="M418,450 L452,930 L527,981"/>
<path d="M443,450 L545,503.5"/>
</g>
</svg>
